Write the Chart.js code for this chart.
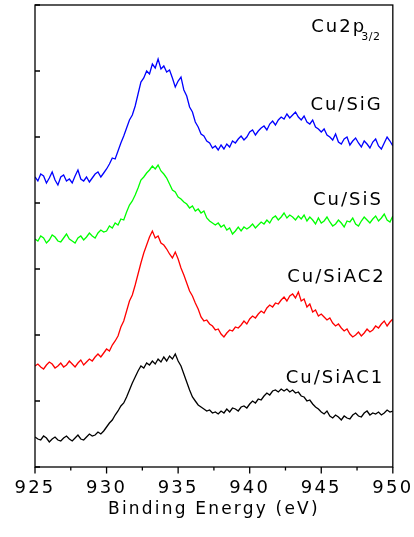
<!DOCTYPE html>
<html>
<head>
<meta charset="utf-8">
<script src="https://cdn.jsdelivr.net/npm/chart.js@4.4.0/dist/chart.umd.min.js"></script>
<style>
  body { margin: 0; background: #fff; }
  #wrap { width: 414px; height: 537px; }
</style>
</head>
<body>
<div id="wrap"><canvas id="myChart" width="414" height="537"></canvas></div>
<script>
// energy grid 925 -> 950 eV, one reading every 0.2 eV
var eStart = 925, eStep = 0.2;
var xTicks = [925, 930, 935, 940, 945, 950];

// intensities (offset, arbitrary units)
var cuSiG = [290,286,293,291,284,289,295,287,282,290,292,286,288,284,291,297,288,286,290,285,
  289,293,295,290,294,
  298,303,309,308,316,324,331,339,347,352,361,373,385,389,396,393,403,399,408,398,
  401,395,397,389,380,386,390,377,371,360,355,345,340,333,331,326,324,319,321,317,
  322,318,323,320,326,
  324,328,331,327,330,335,337,332,336,339,341,337,343,346,342,347,350,348,353,349,
  352,355,350,347,351,345,343,347,340,338,
  335,338,332,330,327,333,325,323,328,330,322,326,329,324,320,326,323,319,325,328,
  321,318,324,330,326,321];
var cuSiS = [228,226,231,229,224,227,232,230,226,225,229,233,228,226,224,229,231,227,230,234,
  231,229,234,237,235,
  236,241,239,244,242,248,247,255,262,266,272,279,287,290,294,
  297,301,298,302,296,293,289,283,277,275,270,268,265,263,259,261,256,258,254,256,
  249,246,244,242,244,240,242,237,239,233,236,240,236,240,238,
  240,243,239,242,245,243,247,244,249,251,247,250,254,249,252,250,247,251,248,252,
  246,250,247,243,249,244,246,250,245,241,243,247,244,240,246,245,249,243,241,246,
  250,247,244,248,251,246,249,253,247,245,251];
var cuSiAC2 = [101,103,100,98,102,105,103,99,101,104,100,102,106,103,100,104,107,102,105,108,
  106,110,113,110,114,
  118,116,122,126,131,140,146,156,166,172,182,193,204,214,222,
  230,236,229,231,224,222,218,213,209,215,208,199,192,184,176,171,164,158,150,146,
  147,143,141,137,138,
  133,130,134,137,136,140,139,142,146,143,148,151,149,153,156,154,159,162,160,164,
  163,167,170,166,171,173,169,175,
  166,168,160,163,155,157,151,
  153,150,147,149,144,141,143,139,136,138,133,130,132,135,131,134,138,135,137,141,
  139,143,146,141,145,148];
var cuSiAC1 = [30,28,27,31,29,25,28,30,27,26,29,31,28,26,29,32,28,27,30,33,
  31,32,35,33,36,
  40,44,47,52,56,61,64,70,77,84,90,96,101,99,104,
  102,106,103,108,105,110,106,111,108,113,106,101,93,85,77,70,66,62,60,58,
  56,57,54,55,53,56,54,58,55,59,
  58,56,60,61,59,63,66,64,68,67,71,74,72,76,77,75,78,76,78,75,
  77,74,75,71,70,66,67,63,60,58,
  55,53,56,51,49,52,50,47,51,49,48,52,54,51,50,54,56,52,54,53,
  55,52,54,57,55,56];

var seriesNames = ['Cu/SiAC1', 'Cu/SiAC2', 'Cu/SiS', 'Cu/SiG'];
var seriesColors = ['#000000', '#ff0000', '#00ff00', '#0000ff'];
var seriesData = [cuSiAC1, cuSiAC2, cuSiS, cuSiG];

// text labels: [text, energy of right edge, intensity of baseline]
var curveLabels = [
  ['Cu/SiG', 949.3, 357],
  ['Cu/SiS', 949.3, 262],
  ['Cu/SiAC2', 949.5, 185],
  ['Cu/SiAC1', 949.4, 84]
];

function points(arr) {
  var out = [];
  for (var i = 0; i < arr.length; i++) {
    out.push({ x: eStart + i * eStep, y: arr[i] });
  }
  return out;
}

var datasets = [];
for (var i = 0; i < seriesData.length; i++) {
  datasets.push({
    label: seriesNames[i],
    data: points(seriesData[i]),
    borderColor: seriesColors[i],
    borderWidth: 1.3,
    pointRadius: 0,
    tension: 0,
    fill: false
  });
}

var framePlugin = {
  id: 'frame',
  beforeDraw: function(chart) {
    chart.ctx.letterSpacing = '2.2px';
  },
  afterDatasetsDraw: function(chart) {
    var ctx = chart.ctx, a = chart.chartArea;
    var xs = chart.scales.x, ys = chart.scales.y;
    ctx.save();
    ctx.strokeStyle = '#000';
    ctx.lineWidth = 1.3;
    ctx.strokeRect(a.left, a.top, a.right - a.left, a.bottom - a.top);
    ctx.beginPath();
    xs.ticks.forEach(function(t, i) {
      var px = xs.getPixelForTick(i);
      var len = xTicks.indexOf(t.value) >= 0 ? 6.5 : 3.5;
      ctx.moveTo(px, a.bottom);
      ctx.lineTo(px, a.bottom + len);
    });
    ys.ticks.forEach(function(t, i) {
      var py = ys.getPixelForTick(i);
      ctx.moveTo(a.left, py);
      ctx.lineTo(a.left + 5, py);
    });
    ctx.stroke();

    // curve names
    ctx.fillStyle = '#000';
    ctx.textBaseline = 'alphabetic';
    ctx.letterSpacing = '2px';
    ctx.font = '18px "DejaVu Sans"';
    ctx.textAlign = 'right';
    curveLabels.forEach(function(l) {
      ctx.fillText(l[0], xs.getPixelForValue(l[1]), ys.getPixelForValue(l[2]));
    });
    // Cu2p 3/2
    ctx.textAlign = 'left';
    ctx.fillText('Cu2p', xs.getPixelForValue(944.3), ys.getPixelForValue(435));
    ctx.font = '11px "DejaVu Sans"';
    ctx.letterSpacing = '0.5px';
    ctx.fillText('3/2', xs.getPixelForValue(947.8), ys.getPixelForValue(427));
    ctx.restore();
  }
};

Chart.defaults.font.family = '"DejaVu Sans"';
Chart.defaults.color = '#000';

var ctx = document.getElementById('myChart').getContext('2d');
var chart = new Chart(ctx, {
  type: 'line',
  data: { datasets: datasets },
  plugins: [framePlugin],
  options: {
    responsive: false,
    animation: false,
    devicePixelRatio: 1,
    layout: { padding: { left: 0, right: 19, top: 5, bottom: 0 } },
    plugins: { legend: { display: false }, tooltip: { enabled: false } },
    scales: {
      x: {
        type: 'linear',
        min: 925,
        max: 950,
        border: { display: false },
        grid: { display: true, drawOnChartArea: false, drawTicks: true, tickLength: 7, color: 'rgba(0,0,0,0)' },
        ticks: {
          stepSize: 2.5,
          autoSkip: false,
          maxRotation: 0,
          padding: 4,
          font: { size: 18 },
          callback: function(v) { return xTicks.indexOf(v) >= 0 ? String(v) : ''; }
        },
        title: {
          display: true,
          text: 'Binding Energy (eV)',
          font: { size: 17 },
          padding: { top: 0, bottom: 17 }
        },
        afterFit: function(s) { s.height = 70; }
      },
      y: {
        min: 0,
        max: 462,
        border: { display: false },
        grid: { display: false },
        ticks: { display: false, stepSize: 66 },
        afterFit: function(s) { s.width = 35; }
      }
    }
  }
});
</script>
</body>
</html>
